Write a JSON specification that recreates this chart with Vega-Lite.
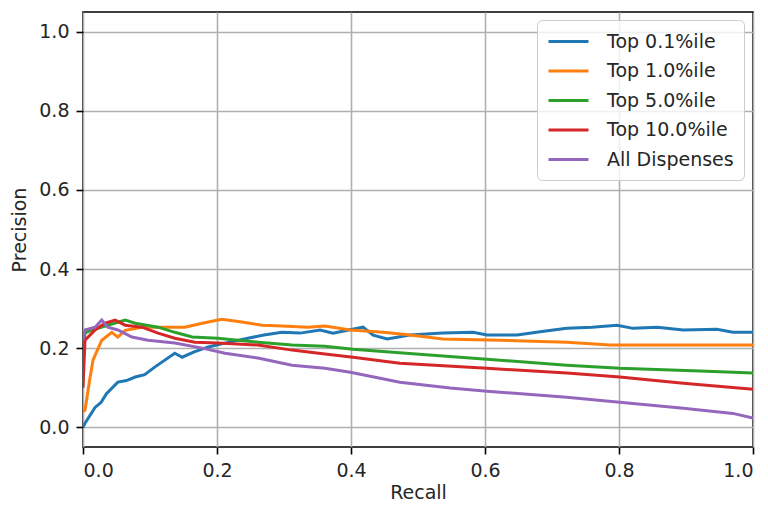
{
  "$schema": "https://vega.github.io/schema/vega-lite/v6.json",
  "width": 670,
  "height": 435,
  "autosize": {"type": "none"},
  "padding": {"left": 83, "top": 12, "right": 15, "bottom": 60},
  "background": "white",
  "config": {
    "font": "DejaVu Sans",
    "view": {"stroke": "#000000", "strokeWidth": 1.6},
    "axis": {
      "domain": false,
      "grid": true,
      "gridColor": "#b0b0b0",
      "gridWidth": 1.6,
      "tickColor": "#000000",
      "tickWidth": 1.6,
      "tickSize": 7,
      "labelPadding": 7,
      "labelFont": "DejaVu Sans",
      "labelFontSize": 19,
      "labelColor": "#262626",
      "titleFont": "DejaVu Sans",
      "titleFontSize": 19,
      "titleFontWeight": "normal",
      "titleColor": "#262626"
    },
    "legend": {
      "labelFont": "DejaVu Sans",
      "labelFontSize": 19,
      "labelColor": "#262626"
    }
  },
  "data": {
    "values": [
      {"series": "Top 0.1%ile", "recall": 0.0, "precision": 0.0},
      {"series": "Top 0.1%ile", "recall": 0.003, "precision": 0.01},
      {"series": "Top 0.1%ile", "recall": 0.018, "precision": 0.05},
      {"series": "Top 0.1%ile", "recall": 0.027, "precision": 0.063},
      {"series": "Top 0.1%ile", "recall": 0.035, "precision": 0.085},
      {"series": "Top 0.1%ile", "recall": 0.052, "precision": 0.114},
      {"series": "Top 0.1%ile", "recall": 0.065, "precision": 0.118},
      {"series": "Top 0.1%ile", "recall": 0.078, "precision": 0.127},
      {"series": "Top 0.1%ile", "recall": 0.092, "precision": 0.133},
      {"series": "Top 0.1%ile", "recall": 0.107, "precision": 0.152},
      {"series": "Top 0.1%ile", "recall": 0.137, "precision": 0.187},
      {"series": "Top 0.1%ile", "recall": 0.148, "precision": 0.177},
      {"series": "Top 0.1%ile", "recall": 0.165, "precision": 0.19},
      {"series": "Top 0.1%ile", "recall": 0.187, "precision": 0.203},
      {"series": "Top 0.1%ile", "recall": 0.215, "precision": 0.214},
      {"series": "Top 0.1%ile", "recall": 0.246, "precision": 0.225},
      {"series": "Top 0.1%ile", "recall": 0.27, "precision": 0.233},
      {"series": "Top 0.1%ile", "recall": 0.297, "precision": 0.24},
      {"series": "Top 0.1%ile", "recall": 0.324, "precision": 0.238},
      {"series": "Top 0.1%ile", "recall": 0.354, "precision": 0.246},
      {"series": "Top 0.1%ile", "recall": 0.373, "precision": 0.238},
      {"series": "Top 0.1%ile", "recall": 0.395, "precision": 0.245},
      {"series": "Top 0.1%ile", "recall": 0.418, "precision": 0.253},
      {"series": "Top 0.1%ile", "recall": 0.433, "precision": 0.233},
      {"series": "Top 0.1%ile", "recall": 0.454, "precision": 0.223},
      {"series": "Top 0.1%ile", "recall": 0.488, "precision": 0.233},
      {"series": "Top 0.1%ile", "recall": 0.537, "precision": 0.238},
      {"series": "Top 0.1%ile", "recall": 0.582, "precision": 0.24},
      {"series": "Top 0.1%ile", "recall": 0.603, "precision": 0.233},
      {"series": "Top 0.1%ile", "recall": 0.648, "precision": 0.233},
      {"series": "Top 0.1%ile", "recall": 0.685, "precision": 0.242},
      {"series": "Top 0.1%ile", "recall": 0.722, "precision": 0.25},
      {"series": "Top 0.1%ile", "recall": 0.76, "precision": 0.253},
      {"series": "Top 0.1%ile", "recall": 0.797, "precision": 0.258},
      {"series": "Top 0.1%ile", "recall": 0.821, "precision": 0.25},
      {"series": "Top 0.1%ile", "recall": 0.857, "precision": 0.253},
      {"series": "Top 0.1%ile", "recall": 0.896, "precision": 0.246},
      {"series": "Top 0.1%ile", "recall": 0.946, "precision": 0.248},
      {"series": "Top 0.1%ile", "recall": 0.97, "precision": 0.24},
      {"series": "Top 0.1%ile", "recall": 1.0, "precision": 0.24},

      {"series": "Top 1.0%ile", "recall": 0.0, "precision": 0.04},
      {"series": "Top 1.0%ile", "recall": 0.003, "precision": 0.043},
      {"series": "Top 1.0%ile", "recall": 0.01, "precision": 0.12},
      {"series": "Top 1.0%ile", "recall": 0.015, "precision": 0.17},
      {"series": "Top 1.0%ile", "recall": 0.028, "precision": 0.22},
      {"series": "Top 1.0%ile", "recall": 0.043, "precision": 0.24},
      {"series": "Top 1.0%ile", "recall": 0.052, "precision": 0.228},
      {"series": "Top 1.0%ile", "recall": 0.063, "precision": 0.245},
      {"series": "Top 1.0%ile", "recall": 0.088, "precision": 0.253},
      {"series": "Top 1.0%ile", "recall": 0.118, "precision": 0.253},
      {"series": "Top 1.0%ile", "recall": 0.152, "precision": 0.253},
      {"series": "Top 1.0%ile", "recall": 0.178, "precision": 0.263},
      {"series": "Top 1.0%ile", "recall": 0.207, "precision": 0.273},
      {"series": "Top 1.0%ile", "recall": 0.237, "precision": 0.266},
      {"series": "Top 1.0%ile", "recall": 0.267, "precision": 0.258},
      {"series": "Top 1.0%ile", "recall": 0.297, "precision": 0.256},
      {"series": "Top 1.0%ile", "recall": 0.336, "precision": 0.253},
      {"series": "Top 1.0%ile", "recall": 0.361, "precision": 0.256},
      {"series": "Top 1.0%ile", "recall": 0.399, "precision": 0.246},
      {"series": "Top 1.0%ile", "recall": 0.448, "precision": 0.24},
      {"series": "Top 1.0%ile", "recall": 0.488, "precision": 0.233},
      {"series": "Top 1.0%ile", "recall": 0.537, "precision": 0.223},
      {"series": "Top 1.0%ile", "recall": 0.622, "precision": 0.22},
      {"series": "Top 1.0%ile", "recall": 0.722, "precision": 0.215},
      {"series": "Top 1.0%ile", "recall": 0.787, "precision": 0.208},
      {"series": "Top 1.0%ile", "recall": 0.872, "precision": 0.208},
      {"series": "Top 1.0%ile", "recall": 1.0, "precision": 0.208},

      {"series": "Top 5.0%ile", "recall": 0.0, "precision": 0.2},
      {"series": "Top 5.0%ile", "recall": 0.003, "precision": 0.238},
      {"series": "Top 5.0%ile", "recall": 0.013, "precision": 0.246},
      {"series": "Top 5.0%ile", "recall": 0.037, "precision": 0.258},
      {"series": "Top 5.0%ile", "recall": 0.063, "precision": 0.271},
      {"series": "Top 5.0%ile", "recall": 0.078, "precision": 0.263},
      {"series": "Top 5.0%ile", "recall": 0.112, "precision": 0.253},
      {"series": "Top 5.0%ile", "recall": 0.137, "precision": 0.24},
      {"series": "Top 5.0%ile", "recall": 0.163, "precision": 0.228},
      {"series": "Top 5.0%ile", "recall": 0.201, "precision": 0.225},
      {"series": "Top 5.0%ile", "recall": 0.261, "precision": 0.215},
      {"series": "Top 5.0%ile", "recall": 0.312, "precision": 0.208},
      {"series": "Top 5.0%ile", "recall": 0.361, "precision": 0.205},
      {"series": "Top 5.0%ile", "recall": 0.403, "precision": 0.197},
      {"series": "Top 5.0%ile", "recall": 0.522, "precision": 0.182},
      {"series": "Top 5.0%ile", "recall": 0.603, "precision": 0.172},
      {"series": "Top 5.0%ile", "recall": 0.722, "precision": 0.157},
      {"series": "Top 5.0%ile", "recall": 0.801, "precision": 0.149},
      {"series": "Top 5.0%ile", "recall": 0.921, "precision": 0.142},
      {"series": "Top 5.0%ile", "recall": 1.0, "precision": 0.137},

      {"series": "Top 10.0%ile", "recall": 0.0, "precision": 0.1},
      {"series": "Top 10.0%ile", "recall": 0.003, "precision": 0.22},
      {"series": "Top 10.0%ile", "recall": 0.018, "precision": 0.246},
      {"series": "Top 10.0%ile", "recall": 0.033, "precision": 0.263},
      {"series": "Top 10.0%ile", "recall": 0.048, "precision": 0.271},
      {"series": "Top 10.0%ile", "recall": 0.063, "precision": 0.258},
      {"series": "Top 10.0%ile", "recall": 0.088, "precision": 0.253},
      {"series": "Top 10.0%ile", "recall": 0.112, "precision": 0.238},
      {"series": "Top 10.0%ile", "recall": 0.137, "precision": 0.225},
      {"series": "Top 10.0%ile", "recall": 0.167, "precision": 0.215},
      {"series": "Top 10.0%ile", "recall": 0.201, "precision": 0.213},
      {"series": "Top 10.0%ile", "recall": 0.261, "precision": 0.208},
      {"series": "Top 10.0%ile", "recall": 0.312, "precision": 0.195},
      {"series": "Top 10.0%ile", "recall": 0.361, "precision": 0.185},
      {"series": "Top 10.0%ile", "recall": 0.403, "precision": 0.177},
      {"series": "Top 10.0%ile", "recall": 0.473, "precision": 0.162},
      {"series": "Top 10.0%ile", "recall": 0.603, "precision": 0.149},
      {"series": "Top 10.0%ile", "recall": 0.722, "precision": 0.137},
      {"series": "Top 10.0%ile", "recall": 0.801, "precision": 0.127},
      {"series": "Top 10.0%ile", "recall": 0.896, "precision": 0.111},
      {"series": "Top 10.0%ile", "recall": 1.0, "precision": 0.096},

      {"series": "All Dispenses", "recall": 0.0, "precision": 0.22},
      {"series": "All Dispenses", "recall": 0.003, "precision": 0.246},
      {"series": "All Dispenses", "recall": 0.018, "precision": 0.253},
      {"series": "All Dispenses", "recall": 0.028, "precision": 0.271},
      {"series": "All Dispenses", "recall": 0.037, "precision": 0.253},
      {"series": "All Dispenses", "recall": 0.052, "precision": 0.246},
      {"series": "All Dispenses", "recall": 0.073, "precision": 0.228},
      {"series": "All Dispenses", "recall": 0.097, "precision": 0.22},
      {"series": "All Dispenses", "recall": 0.137, "precision": 0.213},
      {"series": "All Dispenses", "recall": 0.178, "precision": 0.2},
      {"series": "All Dispenses", "recall": 0.212, "precision": 0.187},
      {"series": "All Dispenses", "recall": 0.261, "precision": 0.175},
      {"series": "All Dispenses", "recall": 0.312, "precision": 0.157},
      {"series": "All Dispenses", "recall": 0.361, "precision": 0.149},
      {"series": "All Dispenses", "recall": 0.399, "precision": 0.139},
      {"series": "All Dispenses", "recall": 0.473, "precision": 0.114},
      {"series": "All Dispenses", "recall": 0.548, "precision": 0.099},
      {"series": "All Dispenses", "recall": 0.603, "precision": 0.091},
      {"series": "All Dispenses", "recall": 0.722, "precision": 0.076},
      {"series": "All Dispenses", "recall": 0.801, "precision": 0.063},
      {"series": "All Dispenses", "recall": 0.896, "precision": 0.048},
      {"series": "All Dispenses", "recall": 0.97, "precision": 0.035},
      {"series": "All Dispenses", "recall": 1.0, "precision": 0.023}
    ]
  },
  "mark": {"type": "line", "strokeWidth": 3, "clip": true},
  "encoding": {
    "x": {
      "field": "recall",
      "type": "quantitative",
      "title": "Recall",
      "scale": {"domain": [0, 1], "nice": false, "zero": false},
      "axis": {"values": [0, 0.2, 0.4, 0.6, 0.8, 1.0], "format": ".1f", "titlePadding": 3}
    },
    "y": {
      "field": "precision",
      "type": "quantitative",
      "title": "Precision",
      "scale": {"domain": [-0.05, 1.05], "nice": false, "zero": false},
      "axis": {"values": [0, 0.2, 0.4, 0.6, 0.8, 1.0], "format": ".1f", "titlePadding": 9}
    },
    "color": {
      "field": "series",
      "type": "nominal",
      "title": null,
      "scale": {
        "domain": ["Top 0.1%ile", "Top 1.0%ile", "Top 5.0%ile", "Top 10.0%ile", "All Dispenses"],
        "range": ["#1f77b4", "#ff7f0e", "#2ca02c", "#d62728", "#9467bd"]
      },
      "legend": {
        "orient": "none",
        "legendX": 454,
        "legendY": 8,
        "symbolType": "M-1,0H3",
        "symbolSize": 400,
        "symbolStrokeWidth": 3,
        "labelOffset": 37,
        "rowPadding": 7.5,
        "padding": 10,
        "fillColor": "rgba(255,255,255,0.8)",
        "strokeColor": "#cccccc",
        "cornerRadius": 5
      }
    },
    "order": {"field": "recall", "type": "quantitative"}
  }
}
